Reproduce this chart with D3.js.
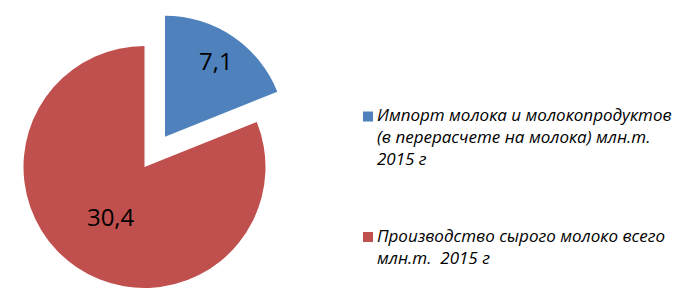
<!DOCTYPE html>
<html>
<head>
<meta charset="utf-8">
<script src="https://cdn.jsdelivr.net/npm/d3@7"></script>
<style>
  body { margin: 0; background: #fff; }
  text { white-space: pre; }
</style>
</head>
<body>
<div id="chart"></div>
<script>
// data
const categories = [
  ["Импорт молока и молокопродуктов", "(в перерасчете на молока) млн.т.", "2015 г"],
  ["Производство сырого молоко всего", "млн.т.  2015 г"]
];
const values = [7.1, 30.4];
const valueLabels = ["7,1", "30,4"];
const colors = ["#4F81BD", "#C0504D"];

const width = 680, height = 305;
const cx = 144.5, cy = 167, radius = 121;
const explode = [36.6, 0];
const labelFactor = [0.75, 0.5];

const svg = d3.select("#chart").append("svg")
    .attr("width", width)
    .attr("height", height);

const pie = d3.pie().sort(null).value(d => d);
const arcs = pie(values);

const arc = d3.arc().innerRadius(0).outerRadius(radius);

const slices = svg.append("g")
    .attr("transform", `translate(${cx}, ${cy})`)
  .selectAll("g")
  .data(arcs)
  .join("g")
    .attr("transform", (d, i) => {
      const a = (d.startAngle + d.endAngle) / 2;
      return `translate(${Math.sin(a) * explode[i]}, ${-Math.cos(a) * explode[i]})`;
    });

slices.append("path")
    .attr("d", arc)
    .attr("fill", (d, i) => colors[i]);

slices.append("text")
    .attr("transform", (d, i) => {
      const r = radius * labelFactor[i];
      const c = d3.arc().innerRadius(r).outerRadius(r).centroid(d);
      return `translate(${c[0]}, ${c[1]})`;
    })
    .attr("dy", "0.35em")
    .attr("text-anchor", "middle")
    .attr("font-family", "'Open Sans', sans-serif")
    .attr("font-size", "24px")
    .attr("fill", "#000")
    .text((d, i) => valueLabels[i]);

// legend
const legendY = [121, 241.5];
const legend = svg.append("g")
    .attr("font-family", "'Open Sans', sans-serif")
    .attr("font-style", "italic")
    .attr("font-size", "17px")
  .selectAll("g")
  .data(categories)
  .join("g")
    .attr("transform", (d, i) => `translate(0, ${legendY[i]})`);

legend.append("rect")
    .attr("x", 363)
    .attr("y", -9.5)
    .attr("width", 10)
    .attr("height", 10)
    .attr("fill", (d, i) => colors[i]);

legend.append("text")
    .attr("x", 377)
    .attr("fill", "#000")
  .selectAll("tspan")
  .data(d => d)
  .join("tspan")
    .attr("x", 377)
    .attr("y", (d, j) => j * 22)
    .text(d => d);
</script>
</body>
</html>
